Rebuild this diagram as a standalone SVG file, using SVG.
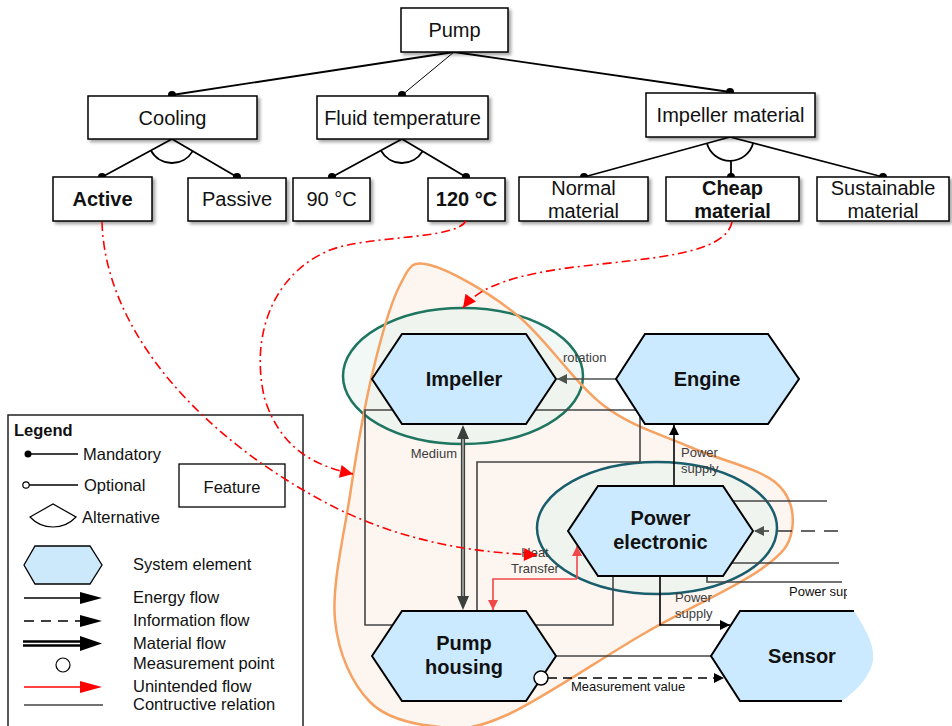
<svg xmlns="http://www.w3.org/2000/svg" width="952" height="726" viewBox="0 0 952 726">
<style>
text{font-family:"Liberation Sans",Arial,Helvetica,sans-serif}
.f{fill:#fff;stroke:#000;stroke-width:1.5;filter:url(#sh)}
.ft{font-size:20px;text-anchor:middle;fill:#111}
.b{font-weight:bold}
.tree{stroke:#000;stroke-width:1.8;fill:none}
.dot{fill:#000}
.hex{fill:#cceaff;stroke:#000;stroke-width:2}
.ht{font-size:20px;font-weight:bold;text-anchor:middle;fill:#111}
.rel{stroke:#464646;stroke-width:1.6;fill:none}
.lbl{font-size:13px;fill:#3c3c3c}
.lg{font-size:16.5px;fill:#111}
.un{stroke:#f04848;stroke-width:1.6;fill:none}
.trace{stroke:#ff0000;stroke-width:1.6;fill:none;stroke-dasharray:9 4 2 4}
</style>
<defs>
  <filter id="sh" x="-10%" y="-10%" width="130%" height="140%">
    <feDropShadow dx="2.5" dy="2.5" stdDeviation="1.5" flood-color="#000" flood-opacity="0.35"/>
  </filter>
  <marker id="aBlk" viewBox="0 0 10 10" refX="10" refY="5" markerWidth="12" markerHeight="10" markerUnits="userSpaceOnUse" orient="auto"><path d="M0,0L10,5L0,10Z" fill="#000"/></marker>
  <marker id="aGry" viewBox="0 0 10 10" refX="10" refY="5" markerWidth="12" markerHeight="10" markerUnits="userSpaceOnUse" orient="auto"><path d="M0,0L10,5L0,10Z" fill="#4d524d"/></marker>
  <marker id="aUn" viewBox="0 0 10 10" refX="10" refY="5" markerWidth="12" markerHeight="10" markerUnits="userSpaceOnUse" orient="auto"><path d="M0,0L10,5L0,10Z" fill="#f04848"/></marker>
  <marker id="aTr" viewBox="0 0 10 10" refX="10" refY="5" markerWidth="17" markerHeight="13" markerUnits="userSpaceOnUse" orient="auto"><path d="M0,0L10,5L0,10Z" fill="#ff0000"/></marker>
  <clipPath id="cut"><rect x="0" y="0" width="847" height="726"/></clipPath>
</defs>

<!-- variant scope region -->
<path id="scope-fill" fill="#fcf5f0" d="M430,265 C449.5,270 488.2,291.7 517,315 C545.8,338.3 574.2,383 603,405 C631.8,427 661.3,434.2 690,447 C718.7,459.8 758,468.2 775,482 C792,495.8 794.5,515.3 792,530 C789.5,544.7 784.5,552.8 760,570 C735.5,587.2 686.8,609 645,633 C603.2,657 543.2,698.3 509,714 C474.8,729.7 463.2,729 440,727 C416.8,725 387.5,719.8 370,702 C352.5,684.2 338.3,654.5 335,620 C331.7,585.5 343.8,535.8 350,495 C356.2,454.2 363.7,410 372,375 C380.3,340 390.3,303.3 400,285 C409.7,266.7 410.5,260 430,265 Z"/>

<!-- selection ellipses -->
<ellipse id="sel-impeller" cx="463" cy="376" rx="120" ry="68" fill="#e6f3ec" fill-opacity="0.55" stroke="#1e7560" stroke-width="2.5"/>
<ellipse id="sel-power" cx="657" cy="528" rx="120" ry="66" fill="#e6f3ec" fill-opacity="0.55" stroke="#1a5e6e" stroke-width="2.5"/>

<path id="scope-line" fill="none" stroke="#f5a262" stroke-width="2.5" d="M430,265 C449.5,270 488.2,291.7 517,315 C545.8,338.3 574.2,383 603,405 C631.8,427 661.3,434.2 690,447 C718.7,459.8 758,468.2 775,482 C792,495.8 794.5,515.3 792,530 C789.5,544.7 784.5,552.8 760,570 C735.5,587.2 686.8,609 645,633 C603.2,657 543.2,698.3 509,714 C474.8,729.7 463.2,729 440,727 C416.8,725 387.5,719.8 370,702 C352.5,684.2 338.3,654.5 335,620 C331.7,585.5 343.8,535.8 350,495 C356.2,454.2 363.7,410 372,375 C380.3,340 390.3,303.3 400,285 C409.7,266.7 410.5,260 430,265 Z"/>

<g id="connectors">
  <!-- feature tree -->
  <path class="tree" d="M454,52L172,95M454,52L730,92"/>
  <path stroke="#000" stroke-width="1" d="M454,52L402,95"/>
  <path class="tree" d="M172,139L102,177M172,139L237,177"/>
  <path class="tree" stroke-width="1.2" d="M150.9,150.5A24,24 0 0 0 192.7,151.1"/>
  <path class="tree" d="M402,139L332,177M402,139L466,177"/>
  <path class="tree" stroke-width="1.2" d="M380.9,150.5A24,24 0 0 0 422.6,151.3"/>
  <path class="tree" d="M730,137L584,177M730,137L883,177M731,161V177"/>
  <path class="tree" stroke-width="1.2" d="M706.9,143.3A24,24 0 0 0 753.2,143.1"/>
  <g class="dot">
    <circle cx="172" cy="95" r="4"/><circle cx="402" cy="95" r="4"/><circle cx="730" cy="92" r="4"/>
    <circle cx="102" cy="177" r="4"/><circle cx="237" cy="177" r="4"/><circle cx="332" cy="177" r="4"/>
    <circle cx="466" cy="177" r="4"/><circle cx="584" cy="177" r="4"/><circle cx="731" cy="177" r="4"/>
    <circle cx="883" cy="177" r="4"/>
  </g>

  <!-- constructive relations -->
  <path class="rel" d="M636,410H365V625H613V576"/>
  <path class="rel" d="M640,416V462H477V611"/>
  <g clip-path="url(#cut)">
    <path class="rel" d="M733,501H827"/>
    <path class="rel" d="M731,563H839"/>
    <path class="rel" d="M707,576V582H842"/>
    <path stroke="#333" stroke-width="1.6" fill="none" stroke-dasharray="14 9" d="M838,531H754" marker-end="url(#aGry)"/>
  </g>
  <line class="rel" stroke="#222" x1="556" y1="656" x2="711" y2="656"/>

  <!-- energy flows -->
  <line x1="616" y1="379" x2="557" y2="379" stroke="#4d524d" stroke-width="1.6" marker-end="url(#aGry)"/>
  <line x1="674" y1="486" x2="674" y2="425" stroke="#000" stroke-width="1.6" marker-end="url(#aBlk)"/>
  <path d="M660,576V625H730" fill="none" stroke="#000" stroke-width="1.6" marker-end="url(#aBlk)"/>

  <!-- material flow (medium) -->
  <line x1="463" y1="437" x2="463" y2="598" stroke="#3c403c" stroke-width="4.2"/>
  <line x1="463" y1="437" x2="463" y2="598" stroke="#a9aba9" stroke-width="1.6"/>
  <path d="M463,425L457,439H469Z M463,610L457,596H469Z" fill="#3c403c"/>

  <!-- information flow -->
  <path d="M548,678H724" stroke="#000" stroke-width="1.6" stroke-dasharray="9 6" marker-end="url(#aBlk)"/>

  <!-- unintended heat transfer -->
  <path class="un" d="M577,579V546" marker-end="url(#aUn)"/>
  <path class="un" d="M577,579H493V610" marker-end="url(#aUn)"/>
</g>

<!-- system elements -->
<g id="impeller">
  <polygon class="hex" points="372,379 402,334 526,334 556,379 526,424 402,424"/>
  <text class="ht" x="464" y="386">Impeller</text>
</g>
<g id="engine">
  <polygon class="hex" points="616,379 645,334 768,334 799,379 768,424 645,424"/>
  <text class="ht" x="707" y="386">Engine</text>
</g>
<g id="power-electronic">
  <polygon class="hex" points="568,531 598,486 723,486 753,531 723,576 598,576"/>
  <text class="ht" x="660.5" y="525">Power</text>
  <text class="ht" x="660.5" y="549">electronic</text>
</g>
<g id="pump-housing">
  <polygon class="hex" points="372,656 402,611 526,611 556,656 526,701 402,701"/>
  <text class="ht" x="464" y="650">Pump</text>
  <text class="ht" x="464" y="674">housing</text>
  <circle cx="541" cy="678" r="7" fill="#fff" stroke="#000" stroke-width="1.5"/>
</g>
<g id="sensor">
  <path fill="#cceaff" d="M740,611H854C865,628 875,645 873,660C871,676 855,692 842,701H740L711,656Z"/>
  <path fill="none" stroke="#000" stroke-width="2" d="M854,611H740L711,656L740,701H842"/>
  <text class="ht" x="802" y="663">Sensor</text>
</g>

<!-- flow labels -->
<g id="flow-labels" class="lbl">
  <text x="563" y="362">rotation</text>
  <text x="457" y="458" text-anchor="end">Medium</text>
  <text x="681" y="457">Power</text>
  <text x="681" y="473">supply</text>
  <text x="535" y="557" text-anchor="middle">Heat</text>
  <text x="535" y="573" text-anchor="middle">Transfer</text>
  <text x="675" y="602">Power</text>
  <text x="675" y="618">supply</text>
  <text x="789" y="596" fill="#111" clip-path="url(#cut)">Power supply</text>
  <text x="571" y="691" fill="#111">Measurement value</text>
</g>

<!-- feature model -->
<g id="pump"><rect class="f" x="401" y="8" width="107" height="44"/><text class="ft" x="454.5" y="37">Pump</text></g>
<g id="cooling"><rect class="f" x="88" y="96" width="169" height="43"/><text class="ft" x="172.5" y="125">Cooling</text></g>
<g id="fluid-temperature"><rect class="f" x="317" y="96" width="171" height="43"/><text class="ft" x="402.5" y="125">Fluid temperature</text></g>
<g id="impeller-material"><rect class="f" x="646" y="93" width="169" height="44"/><text class="ft" x="730.5" y="122">Impeller material</text></g>
<g id="active"><rect class="f" x="53" y="177" width="99" height="44" stroke="#1b5e74" stroke-width="2.5"/><text class="ft b" x="102.5" y="206">Active</text></g>
<g id="passive"><rect class="f" x="188" y="178" width="98" height="43"/><text class="ft" x="237" y="206">Passive</text></g>
<g id="t90"><rect class="f" x="293" y="178" width="77" height="43"/><text class="ft" x="331.5" y="206">90 °C</text></g>
<g id="t120"><rect class="f" x="428" y="178" width="77" height="43" stroke="#f5a46c" stroke-width="2.5"/><text class="ft b" x="466.5" y="206">120 °C</text></g>
<g id="normal-material"><rect class="f" x="519" y="177" width="129" height="44"/><text class="ft" x="583.5" y="195">Normal</text><text class="ft" x="583.5" y="218">material</text></g>
<g id="cheap-material"><rect class="f" x="666" y="177" width="133" height="44" stroke="#1d7a63" stroke-width="2.5"/><text class="ft b" x="732.5" y="195">Cheap</text><text class="ft b" x="732.5" y="218">material</text></g>
<g id="sustainable-material"><rect class="f" x="817" y="177" width="132" height="44"/><text class="ft" x="883" y="195">Sustainable</text><text class="ft" x="883" y="218">material</text></g>

<!-- legend -->
<g id="legend">
  <rect x="8" y="415" width="295" height="320" fill="#fff" stroke="#222" stroke-width="1.5"/>
  <text x="14" y="436" class="lg b">Legend</text>
  <line x1="28" y1="454" x2="78" y2="454" stroke="#000" stroke-width="1.5"/>
  <circle cx="28" cy="454" r="3.5" fill="#000"/>
  <text x="83" y="460" class="lg">Mandatory</text>
  <line x1="29" y1="485" x2="78" y2="485" stroke="#000" stroke-width="1.5"/>
  <circle cx="26" cy="485" r="3.2" fill="#fff" stroke="#000" stroke-width="1.2"/>
  <text x="84" y="491" class="lg">Optional</text>
  <path d="M30,517L53,504L76,517A31.5,31.5 0 0 1 30,517Z" fill="#fff" stroke="#000" stroke-width="1.2"/>
  <text x="82" y="523" class="lg">Alternative</text>
  <rect x="179" y="464" width="106" height="43" fill="#fff" stroke="#000" stroke-width="1.3"/>
  <text x="232" y="493" class="lg" text-anchor="middle">Feature</text>
  <polygon points="24,565 35,546 90,546 102,565 90,584 35,584" fill="#cce9fb" stroke="#000" stroke-width="1.3"/>
  <text x="133" y="570" class="lg">System element</text>
  <line x1="24" y1="598" x2="82" y2="598" stroke="#000" stroke-width="1.5"/>
  <path d="M80,592L102,598L80,604Z" fill="#000"/>
  <text x="133" y="603" class="lg">Energy flow</text>
  <line x1="24" y1="621" x2="82" y2="621" stroke="#000" stroke-width="1.5" stroke-dasharray="10 7"/>
  <path d="M80,615L102,621L80,627Z" fill="#000"/>
  <text x="133" y="626" class="lg">Information flow</text>
  <line x1="23" y1="643.5" x2="84" y2="643.5" stroke="#000" stroke-width="6.5"/>
  <line x1="23" y1="643.5" x2="82" y2="643.5" stroke="#fff" stroke-width="1.5"/>
  <path d="M80,636L102,643.5L80,651Z" fill="#000"/>
  <text x="133" y="649" class="lg">Material flow</text>
  <circle cx="63" cy="665" r="7" fill="#fff" stroke="#000" stroke-width="1.2"/>
  <text x="133" y="669" class="lg">Measurement point</text>
  <line x1="24" y1="687" x2="82" y2="687" stroke="#ff0000" stroke-width="1.5"/>
  <path d="M80,681L102,687L80,693Z" fill="#ff0000"/>
  <text x="133" y="692" class="lg">Unintended flow</text>
  <line x1="24" y1="705" x2="103" y2="705" stroke="#444" stroke-width="1.5"/>
  <text x="133" y="710" class="lg">Contructive relation</text>
</g>

<!-- feature to element traces -->
<g id="traces">
  <path class="trace" d="M102,222C105,330 200,440 340,510C400,538 460,552 537,555" marker-end="url(#aTr)"/>
  <path class="trace" d="M466,221C455,240 370,235 330,250C270,275 250,340 265,400C280,445 310,465 353,474" marker-end="url(#aTr)"/>
  <path class="trace" d="M732,222C725,255 650,258 575,267C520,274 480,285 463,308" marker-end="url(#aTr)"/>
</g>
</svg>
